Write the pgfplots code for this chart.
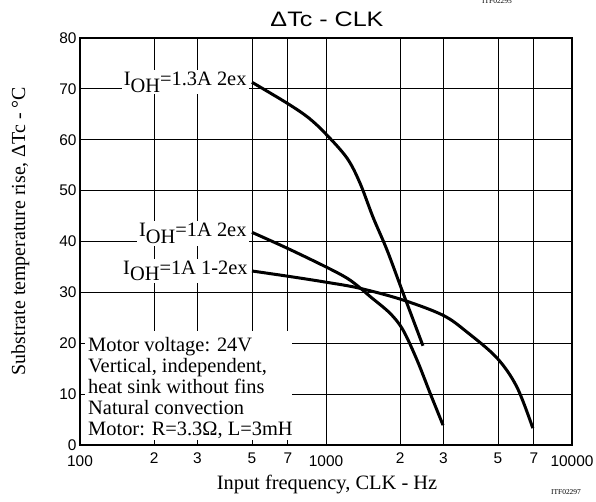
\documentclass[border=0pt]{standalone}
\usepackage{fontspec}
\setmainfont{Liberation Serif}
\setsansfont{Liberation Sans}
\usepackage{pgfplots}
\pgfplotsset{compat=1.18}
\newcommand{\lab}{\fontsize{20.5}{21}\selectfont}
\newcommand{\ioh}{I\raisebox{-0.33em}{OH}}
\newcommand{\dec}[1]{\raisebox{-3bp}[\height][0pt]{#1}}
\begin{document}
\begin{tikzpicture}[x=1bp,y=1bp]
\useasboundingbox (0,0) rectangle (596,502);
\begin{axis}[
  at={(80bp,57bp)}, anchor=south west,
  scale only axis, width=492bp, height=407bp,
  xmode=log, xmin=100, xmax=10000, ymin=0, ymax=80,
  xtick={100,200,300,500,700,1000,2000,3000,5000,7000,10000},
  xticklabels={\dec{100},2,3,5,7,\dec{1000},2,3,5,7,\dec{10000}},
  xticklabel style={yshift=-4bp},
  xminorticks=false,
  ytick={0,10,...,80},
  grid=major,
  major grid style={black, line width=0.9bp},
  axis line style={line width=1.5bp},
  tick align=inside, major tick length=5bp,
  tick style={black, line width=0.9bp},
  tick label style={font=\sffamily\fontsize{15.5}{15.5}\selectfont},
  /pgf/number format/assume math mode=true,
  clip=false,
]
% I_OH = 1.3A 2ex
\addplot[black, line width=3bp, smooth, tension=0.55] coordinates {
  (500,71.3) (694,67.2) (850,64.3) (1000,61.1) (1217,56.4) (1374,51.5) (1552,44.8) (1771,38.3) (2056,29.9) (2478,19.5)};
% I_OH = 1A 2ex
\addplot[black, line width=3bp, smooth, tension=0.55] coordinates {
  (500,41.8) (694,38.7) (1000,35.0) (1217,32.8) (1374,30.9) (1510,29.2) (1820,25.9) (2056,22.6) (2344,16.7) (2649,10.2) (2990,3.9)};
% I_OH = 1A 1-2ex
\addplot[black, line width=3bp, smooth, tension=0.55] coordinates {
  (500,34.2) (694,33.2) (1000,32.0) (1374,30.8) (2056,28.5) (2990,25.5) (3741,22.2) (4955,17.1) (5970,11.4) (6930,3.3)};

\node[fill=white, inner sep=2bp, anchor=base east, font=\lab] at (axis cs:485,70.7) {\ioh=1.3A 2ex};
\node[fill=white, inner sep=2bp, anchor=base east, font=\lab] at (axis cs:485,40.9) {\ioh=1A 2ex};
\node[fill=white, inner sep=2bp, anchor=base east, font=\lab] at (axis cs:490,33.6) {\ioh=1A 1-2ex};

\fill[white] (axis cs:101.5,0.3) rectangle (axis cs:730,22.5);
\draw[line width=0.9bp] (axis cs:200,0) -- ++(0pt,5pt);
\draw[line width=0.9bp] (axis cs:300,0) -- ++(0pt,5pt);
\draw[line width=0.9bp] (axis cs:500,0) -- ++(0pt,5pt);
\draw[line width=0.9bp] (axis cs:700,0) -- ++(0pt,5pt);
\draw[line width=0.9bp] (axis cs:100,10) -- ++(5pt,0pt);
\draw[line width=0.9bp] (axis cs:100,20) -- ++(5pt,0pt);
\node[anchor=north west, inner sep=0, align=left, font=\lab] at (axis cs:107.8,21.2)
  {Motor voltage: 24V\\Vertical, independent,\\heat sink without fins\\Natural convection\\Motor: R=3.3Ω, L=3mH};
\end{axis}
\node[anchor=base, font=\sffamily\fontsize{21}{21}\selectfont] at (327,475) {\scalebox{1.2}[1]{ΔTc - CLK}};
\node[anchor=base, font=\fontsize{20.5}{21}\selectfont] at (327,12) {Input frequency, CLK - Hz};
\node[anchor=base, rotate=90, font=\fontsize{20}{21}\selectfont] at (25,271) {Substrate temperature rise, ΔTc - °C};
\node[anchor=base, font=\fontsize{7.5}{8}\selectfont] at (566,7) {ITF02297};
\node[anchor=base, font=\fontsize{7.5}{8}\selectfont] at (497,498) {ITF02295};
\end{tikzpicture}
\end{document}
